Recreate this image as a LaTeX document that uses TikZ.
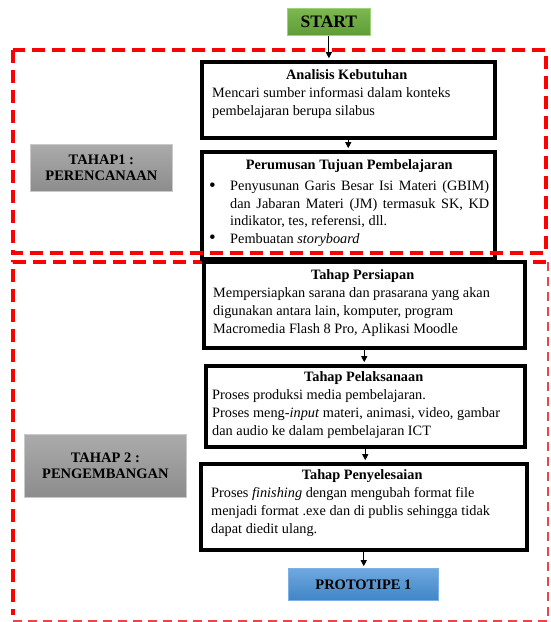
\documentclass[tikz,border=0pt]{standalone}
\usepackage{fontspec}
\setmainfont{Liberation Serif}
\usetikzlibrary{arrows.meta}
\definecolor{dashred}{HTML}{FF0000}
\definecolor{thinred}{HTML}{E8474A}
\definecolor{greentop}{HTML}{7DB84F}
\definecolor{greenbot}{HTML}{5E9C36}
\definecolor{greenedge}{HTML}{9BD27A}
\definecolor{bluetop}{HTML}{6FA8DF}
\definecolor{bluebot}{HTML}{3F85C6}
\definecolor{blueedge}{HTML}{7DB1E4}
\definecolor{graytop}{HTML}{ABABAB}
\definecolor{graybot}{HTML}{8C8C8C}
\definecolor{grayedge}{HTML}{C9C9C9}
\newcommand{\bodyfont}{\fontsize{14.3}{18}\selectfont}
\newcommand{\bulletitem}{\hangindent=21pt\hangafter=1\noindent\makebox[21pt][l]{\raisebox{-0.5pt}{\fontsize{19}{18}\selectfont\textbullet}}}
\begin{document}
\begin{tikzpicture}[x=1pt,y=-1pt,
  flowbox/.style={draw=black, line width=3.5pt, fill=white, inner sep=0pt, anchor=north west},
  boxtext/.style={anchor=base west, inner sep=0pt, font=\bodyfont},
  phasebox/.style={draw=grayedge, line width=0.8pt, top color=graytop, bottom color=graybot,
    inner sep=0pt, anchor=north west, align=center, font=\fontsize{14.5}{16}\selectfont\bfseries},
  startbox/.style={draw=greenedge, line width=0.8pt, top color=greentop, bottom color=greenbot,
    inner sep=0pt, anchor=north west, font=\fontsize{17.5}{18}\selectfont\bfseries},
  protobox/.style={draw=blueedge, line width=0.8pt, top color=bluetop, bottom color=bluebot,
    inner sep=0pt, anchor=north west, font=\fontsize{14.5}{18}\selectfont\bfseries},
  thickdash/.style={draw=dashred, line width=4.5pt, dash pattern=on 13pt off 7pt},
  thindash/.style={draw=thinred, line width=1.2pt, dash pattern=on 9pt off 6pt},
  conn/.style={-{Triangle[length=6pt,width=6pt]}, line width=1pt, shorten >=1.8pt}
]
\useasboundingbox[fill=white] (0,0) rectangle (550,622);

% Tahap 2 region
\draw[thickdash] (546,262) -- (13,262) -- (13,615);
\draw[thindash] (548,262) -- (548,621) -- (10,621);

% phase labels
\node[phasebox, minimum width=142pt, minimum height=47pt] (tahap1) at (30,144) {TAHAP1 :\\PERENCANAAN};
\node[phasebox, minimum width=162pt, minimum height=63pt] (tahap2) at (24,434) {TAHAP 2 :\\PENGEMBANGAN};

% start / prototype
\node[startbox, minimum width=83pt, minimum height=27pt] (start) at (287,8) {START};
\node[protobox, minimum width=150pt, minimum height=32pt] (proto) at (288,568) {PROTOTIPE 1};

% flow boxes
\node[flowbox, minimum width=293pt, minimum height=76pt] (ana) at (200,60) {};
\node[flowbox, minimum width=293pt, minimum height=107pt] (peru) at (200,150) {};
\node[flowbox, minimum width=321pt, minimum height=86pt] (pers) at (202,260) {};
\node[flowbox, minimum width=319pt, minimum height=81pt] (pel) at (204,364) {};
\node[flowbox, minimum width=326pt, minimum height=86pt] (peny) at (199,462) {};

% texts
\node[boxtext] (anat) at (212,79) {\parbox[t]{269pt}{{\centering\textbf{Analisis Kebutuhan}\par}\raggedright
Mencari sumber informasi dalam konteks\\pembelajaran berupa silabus\par}};
\node[boxtext] (perut) at (209,169) {\parbox[t]{280pt}{{\centering\textbf{Perumusan Tujuan Pembelajaran}\par}\vspace{4pt}\fontsize{14.3}{17.5}\selectfont
\bulletitem Penyusunan Garis Besar Isi Materi (GBIM)\linebreak dan Jabaran Materi (JM) termasuk SK, KD\linebreak indikator, tes, referensi, dll.\par
\bulletitem Pembuatan \textit{storyboard}\par}};
\node[boxtext] (perst) at (213,279) {\parbox[t]{299pt}{{\centering\textbf{Tahap Persiapan}\par}\raggedright
Mempersiapkan sarana dan prasarana yang akan\\digunakan antara lain, komputer, program\\Macromedia Flash 8 Pro, Aplikasi Moodle\par}};
\node[boxtext] (pelt) at (212,381) {\parbox[t]{303pt}{{\centering\textbf{Tahap Pelaksanaan}\par}\raggedright
Proses produksi media pembelajaran.\\Proses meng-\textit{input} materi, animasi, video, gambar\\dan audio ke dalam pembelajaran ICT\par}};
\node[boxtext] (penyt) at (211,479) {\parbox[t]{302pt}{{\centering\textbf{Tahap Penyelesaian}\par}\raggedright
Proses \textit{finishing} dengan mengubah format file\\menjadi format .exe dan di publis sehingga tidak\\dapat diedit ulang.\par}};

% Tahap 1 region
\draw[thickdash] (13,50) rectangle (546,253);

% connectors
\draw[conn] (start.south) -- (start.south |- ana.north);
\draw[conn] (ana.south) -- (ana.south |- peru.north);
\draw[conn] (pers.south) -- (pers.south |- pel.north);
\draw[conn] (pel.south) -- (pel.south |- peny.north);
\draw[conn] (peny.south) -- (peny.south |- proto.north);
\end{tikzpicture}
\end{document}
